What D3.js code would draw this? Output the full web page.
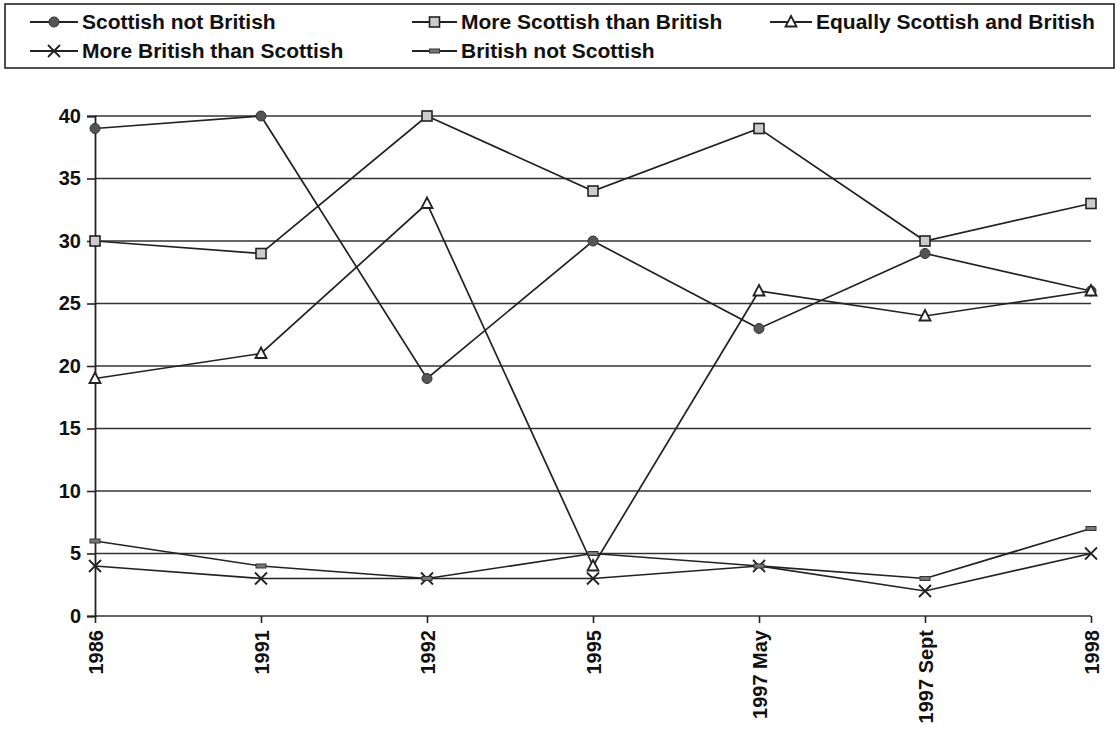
<!DOCTYPE html>
<html>
<head>
<meta charset="utf-8">
<script src="https://cdn.jsdelivr.net/npm/d3@7"></script>
<style>
  body { margin: 0; background: #fff; }
  svg { display: block; font-family: "Liberation Sans", Arial, sans-serif; }
</style>
</head>
<body>
<svg id="chart" width="1120" height="730"></svg>
<script>
const width = 1120;
const height = 730;

// data
const categories = ["1986", "1991", "1992", "1995", "1997 May", "1997 Sept", "1998"];
const scottishNotBritish = [39, 40, 19, 30, 23, 29, 26];
const moreScottish = [30, 29, 40, 34, 39, 30, 33];
const equally = [19, 21, 33, 4, 26, 24, 26];
const moreBritish = [4, 3, 3, 3, 4, 2, 5];
const britishNotScottish = [6, 4, 3, 5, 4, 3, 7];
const yTicks = [0, 5, 10, 15, 20, 25, 30, 35, 40];

const seriesNames = ["Scottish not British", "More Scottish than British", "Equally Scottish and British",
  "More British than Scottish", "British not Scottish"];
const seriesValues = [scottishNotBritish, moreScottish, equally, moreBritish, britishNotScottish];
const markers = ["circle", "square", "triangle", "cross", "dash"];

const series = seriesNames.map((name, i) => ({ name, values: seriesValues[i], marker: markers[i] }));

const margin = { top: 116, right: 29, bottom: 114, left: 95 };
const ink = "#222";

const svg = d3.select("#chart");

const x = d3.scalePoint()
  .domain(categories)
  .range([margin.left, width - margin.right]);

const y = d3.scaleLinear()
  .domain([0, 40])
  .range([height - margin.bottom, margin.top]);

// gridlines
svg.append("g")
  .selectAll("line")
  .data(yTicks)
  .join("line")
    .attr("x1", margin.left)
    .attr("x2", width - margin.right)
    .attr("y1", d => y(d))
    .attr("y2", d => y(d))
    .attr("stroke", "#333")
    .attr("stroke-width", 1.6);

// y axis
const yAxis = svg.append("g")
  .attr("transform", `translate(${margin.left},0)`)
  .call(d3.axisLeft(y).tickValues(yTicks).tickSize(8).tickPadding(6));
yAxis.select(".domain").attr("stroke", ink).attr("stroke-width", 1.8);
yAxis.selectAll(".tick line").attr("stroke", ink).attr("stroke-width", 1.6);
yAxis.selectAll("text")
  .attr("fill", "#111")
  .style("font-size", "20px")
  .style("font-weight", "bold");

// x axis
const xAxis = svg.append("g")
  .attr("transform", `translate(0,${y(0)})`)
  .call(d3.axisBottom(x).tickSize(7).tickSizeOuter(0));
xAxis.select(".domain").remove();
xAxis.selectAll(".tick line").attr("stroke", ink).attr("stroke-width", 1.6);
xAxis.selectAll("text")
  .attr("fill", "#111")
  .style("font-size", "20px")
  .style("font-weight", "bold")
  .attr("text-anchor", "end")
  .attr("transform", "rotate(-90)")
  .attr("x", -14)
  .attr("y", 0)
  .attr("dy", "0.35em");

// marker drawing
function drawMarker(g, type) {
  if (type === "circle") {
    g.append("circle").attr("r", 5).attr("fill", "#555").attr("stroke", "#333").attr("stroke-width", 1);
  } else if (type === "square") {
    g.append("rect").attr("x", -5).attr("y", -5).attr("width", 10).attr("height", 10)
      .attr("fill", "#ccc").attr("stroke", ink).attr("stroke-width", 1.6);
  } else if (type === "triangle") {
    g.append("path").attr("d", "M0,-6L5.5,4.5L-5.5,4.5Z")
      .attr("fill", "#fff").attr("stroke", ink).attr("stroke-width", 1.8);
  } else if (type === "cross") {
    g.append("path").attr("d", "M-6,-6L6,6M-6,6L6,-6")
      .attr("fill", "none").attr("stroke", ink).attr("stroke-width", 1.8);
  } else {
    g.append("rect").attr("x", -5).attr("y", -2).attr("width", 10).attr("height", 4)
      .attr("fill", "#777").attr("stroke", "#333").attr("stroke-width", 1);
  }
}

const line = d3.line()
  .x((d, i) => x(categories[i]))
  .y(d => y(d));

const seriesG = svg.append("g")
  .selectAll("g")
  .data(series)
  .join("g");

seriesG.append("path")
  .attr("fill", "none")
  .attr("stroke", ink)
  .attr("stroke-width", 1.7)
  .attr("d", d => line(d.values));

seriesG.each(function(s) {
  d3.select(this).selectAll("g.pt")
    .data(s.values)
    .join("g")
      .attr("class", "pt")
      .attr("transform", (d, i) => `translate(${x(categories[i])},${y(d)})`)
      .each(function() { drawMarker(d3.select(this), s.marker); });
});

// legend
const legend = svg.append("g");
legend.append("rect")
  .attr("x", 5).attr("y", 4)
  .attr("width", 1109).attr("height", 64)
  .attr("fill", "none").attr("stroke", ink).attr("stroke-width", 1.6);

const legendCols = [30, 412, 770];
const legendRows = [22, 51];
const legendWidths = [48, 45, 42];

series.forEach((s, i) => {
  const col = i % 3;
  const row = Math.floor(i / 3);
  const lx = legendCols[col];
  const ly = legendRows[row];
  const w = legendWidths[col];
  const item = legend.append("g").attr("transform", `translate(${lx},${ly})`);
  item.append("line").attr("x1", 0).attr("x2", w).attr("y1", 0).attr("y2", 0)
    .attr("stroke", ink).attr("stroke-width", 1.8);
  const m = item.append("g").attr("transform", `translate(${w / 2},0)`);
  drawMarker(m, s.marker);
  item.append("text")
    .attr("x", w + 4)
    .attr("y", 0)
    .attr("dy", "0.35em")
    .attr("fill", "#111")
    .style("font-size", "21px")
    .style("font-weight", "bold")
    .text(s.name);
});
</script>
</body>
</html>
